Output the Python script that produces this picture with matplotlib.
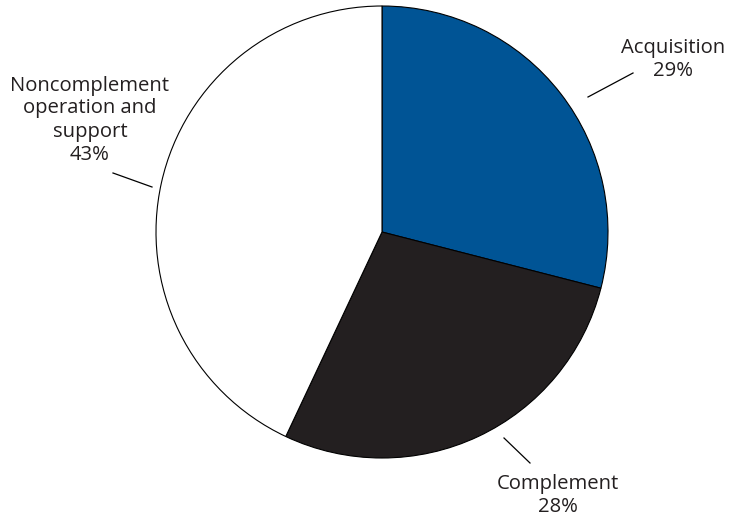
import matplotlib
matplotlib.use("Agg")
import matplotlib.pyplot as plt

labels = ["Acquisition", "Complement", "Noncomplement\noperation and\nsupport"]
shares = [29, 28, 43]
colors = ["#005495", "#231f20", "#ffffff"]

W, H = 734, 519
plt.rcParams['font.family'] = ['Open Sans', 'DejaVu Sans']

fig = plt.figure(figsize=(W / 100, H / 100), dpi=100)
ax = fig.add_axes([0, 0, 1, 1])

# pie in pixel units (y measured upward)
cx, cy, r = 382, H - 232, 226
ax.pie(shares, colors=colors, startangle=90, counterclock=False,
       center=(cx, cy), radius=r,
       wedgeprops=dict(edgecolor='black', linewidth=0.8))
ax.set_xlim(0, W)
ax.set_ylim(0, H)
ax.set_aspect('equal')
ax.axis('off')

# labels and leader lines (pixel positions from the top)
label_pos = [(673, 60), (558, 496), (90, 120)]
leaders = [((588, 97), (633, 73)), ((504, 438), (530, 463)), ((113, 173), (152, 187))]

for name, pct, (tx, ty), (p0, p1) in zip(labels, shares, label_pos, leaders):
    ax.text(tx, H - ty, f"{name}\n{pct}%", ha='center', va='center',
            fontsize=14.6, color='#231f20', linespacing=1.2)
    ax.plot([p0[0], p1[0]], [H - p0[1], H - p1[1]], color='black', lw=0.9)

fig.savefig("out.png", dpi=100)
